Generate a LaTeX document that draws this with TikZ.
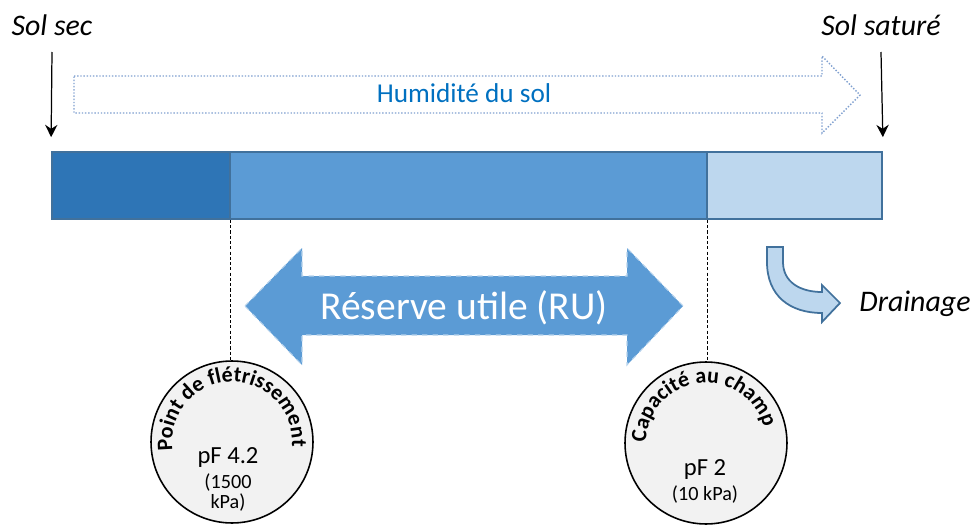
\documentclass[tikz,border=0pt]{standalone}
\usepackage{fontspec}
\setmainfont{Carlito}
\usetikzlibrary{arrows.meta,decorations.text}

\definecolor{bleusombre}{HTML}{2E75B6}
\definecolor{bleumoyen}{HTML}{5B9BD5}
\definecolor{bleuclair}{HTML}{BDD7EE}
\definecolor{bleubord}{HTML}{41719C}
\definecolor{bleupointe}{HTML}{7F9FCF}
\definecolor{bleutexte}{HTML}{0070C0}
\definecolor{grisfond}{HTML}{F2F2F2}

\tikzset{
  segment/.style={draw=bleubord, line width=1pt, minimum height=1.34cm, inner sep=0pt},
  etat/.style={font=\fontsize{17}{20}\selectfont\itshape, anchor=base, inner sep=0pt},
  chute/.style={-{Stealth[length=7pt,width=7pt]}, line width=0.7pt},
  repere/.style={circle, draw, line width=0.9pt, fill=grisfond, minimum size=3.24cm, inner sep=0pt},
  limite/.style={dash pattern=on 1.8pt off 1.2pt, line width=0.5pt}
}

\begin{document}
\begin{tikzpicture}[x=0.02cm, y=-0.02cm]
    \useasboundingbox (0,0) rectangle (975,528);

    % Soil states at both ends
    \node[etat] (sec) at (52,35) {Sol sec};
    \node[etat] (sature) at (881,35) {Sol saturé};

    % The moisture bar
    \node[segment, fill=bleusombre, minimum width=3.56cm] (dry) at (141,185.5) {};
    \node[segment, fill=bleumoyen, minimum width=9.54cm] (ru) at (468.5,185.5) {};
    \node[segment, fill=bleuclair, minimum width=3.5cm] (sat) at (794.5,185.5) {};

    % Arrows pointing at the bar ends
    \draw[chute] ([yshift=-0.34cm]sec.base) -- ([yshift=0.28cm]dry.north west);
    \draw[chute] ([yshift=-0.34cm]sature.base) -- ([yshift=0.28cm]sat.north east);

    % Hollow arrow for soil moisture
    \draw[bleupointe, densely dotted, line width=0.8pt]
        (74,76) -- (822,76) -- (822,56) -- (860,95) -- (822,133) -- (822,113) -- (74,113) -- cycle;
    \node[anchor=base, text=bleutexte, font=\fontsize{15.5}{18}\selectfont] (humidite) at (464,102) {Humidité du sol};

    % Double arrow for the available water
    \draw[fill=bleumoyen, draw=white!55!bleumoyen, dashed, line width=0.6pt]
        (245,306) -- (302,248) -- (302,276) -- (627,276) -- (627,248) -- (683,306)
        -- (627,365) -- (627,335) -- (302,335) -- (302,365) -- cycle;
    \node[anchor=base, text=white, font=\fontsize{22.5}{26}\selectfont] (reserve) at (464,319) {Réserve utile (RU)};

    % Wilting point and field capacity
    \node[repere] (pfp) at (232,442) {};
    \node[repere] (cc) at (706,443) {};
    \path[decorate, decoration={text along path, text align=center,
        text={|\fontsize{12.5}{13}\selectfont\bfseries|Point de flétrissement}}]
        (pfp.center) ++(197:1.2cm) arc[start angle=197, end angle=-13, radius=1.2cm];
    \path[decorate, decoration={text along path, text align=center,
        text={|\fontsize{12.5}{13}\selectfont\bfseries|Capacité au champ}}]
        (cc.center) ++(197:1.2cm) arc[start angle=197, end angle=-3, radius=1.2cm];

    \node[anchor=base, font=\fontsize{14}{17}\selectfont] (pf42) at (228,463) {pF 4.2};
    \node[anchor=base, font=\fontsize{11.5}{14}\selectfont] (kpa1) at (228,488) {(1500};
    \node[anchor=base, font=\fontsize{11.5}{14}\selectfont] (kpa2) at (228,508) {kPa)};
    \node[anchor=base, font=\fontsize{14}{17}\selectfont] (pf2) at (705,475) {pF 2};
    \node[anchor=base, font=\fontsize{11.5}{14}\selectfont] (kpa3) at (705,500) {(10 kPa)};

    % Dashed links from the bar to the points
    \draw[limite] (dry.south east) -- (dry.south east |- pfp.north);
    \draw[limite] (ru.south east) -- (ru.south east |- cc.north);

    % Drainage
    \draw[fill=bleuclair, draw=bleubord, line width=1pt]
        (767,247) -- (767,262) .. controls (767,296) and (790,313) .. (822,313)
        -- (822,322) -- (840,303) -- (822,285) -- (822,292)
        .. controls (800,292) and (783,282) .. (783,262) -- (783,247) -- cycle;
    \node[etat] (drainage) at (915,311) {Drainage};
\end{tikzpicture}
\end{document}
